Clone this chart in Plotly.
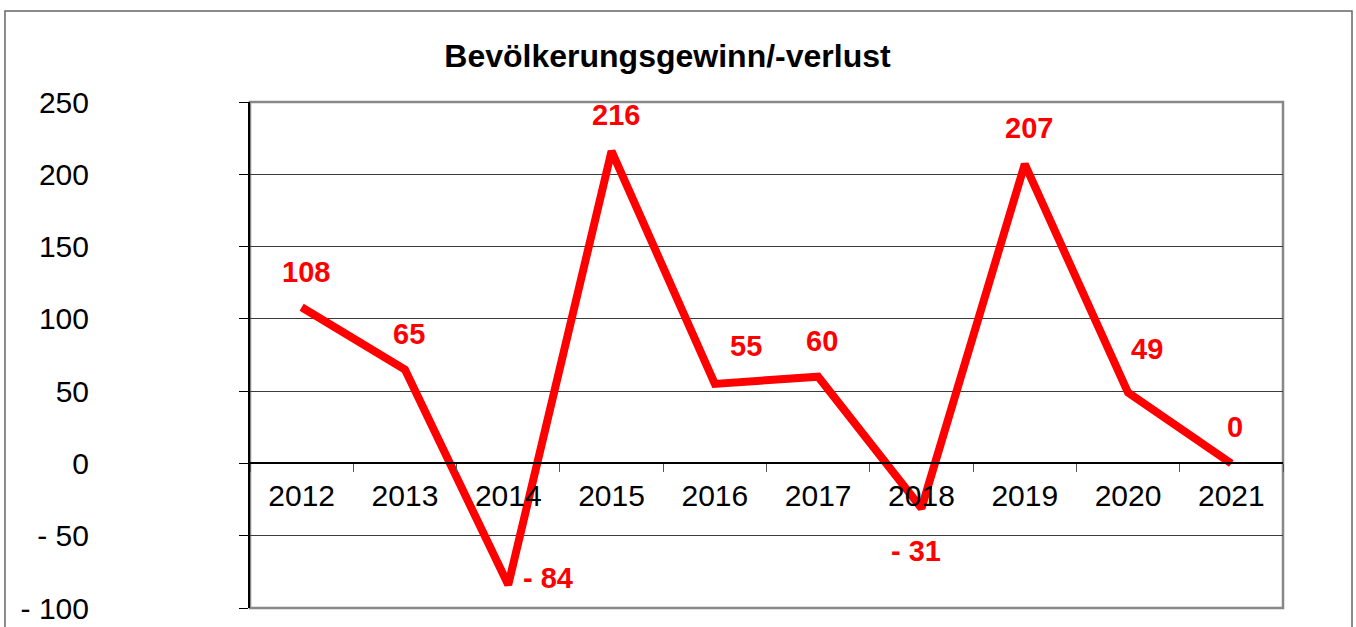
import plotly.graph_objects as go

# Jährlicher Bevölkerungsgewinn bzw. -verlust
years = ["2012", "2013", "2014", "2015", "2016", "2017", "2018", "2019", "2020", "2021"]
change = [108, 65, -84, 216, 55, 60, -31, 207, 49, 0]

y_ticks = [-100, -50, 0, 50, 100, 150, 200, 250]
y_tick_text = ["- 100", "- 50", "0", "50", "100", "150", "200", "250"]

# label placement per point: (anchor, dx, dy) in pixels, dy > 0 moves up
label_place = [
    ("center", 4, 35), ("center", 4, 35), ("left", 13, 7), ("center", 4, 36),
    ("center", 31, 38), ("center", 4, 36), ("center", -5, -43), ("center", 4, 36),
    ("center", 19, 44), ("center", 4, 36),
]

def fmt(v):
    return f"- {abs(v)}" if v < 0 else str(v)

FONT = "Arial"
y_min, y_max = y_ticks[0], y_ticks[-1]

fig = go.Figure()
fig.add_trace(go.Scatter(
    x=years, y=change, mode="lines",
    line=dict(color="#ff0000", width=8),
    hoverinfo="skip", showlegend=False,
))

annotations = []
for i, (v, (anc, dx, dy)) in enumerate(zip(change, label_place)):
    annotations.append(dict(
        x=i, y=v, xref="x", yref="y", text="<b>" + fmt(v) + "</b>",
        showarrow=False, xanchor=anc, yanchor="middle",
        xshift=dx, yshift=dy,
        font=dict(family=FONT, size=29, color="#ff0000"),
    ))

shapes = [
    # outer frame
    dict(type="rect", xref="paper", yref="paper",
         x0=-0.2372, x1=1.0668, y0=-0.2, y1=1.1798,
         line=dict(color="#666666", width=1.5), layer="below"),
    # plot area frame
    dict(type="rect", xref="paper", yref="paper",
         x0=0, x1=1, y0=0, y1=1,
         line=dict(color="#888888", width=2.5), layer="below"),
]

fig.update_layout(
    width=1356, height=627,
    margin=dict(l=250, r=73, t=102, b=19, autoexpand=False),
    paper_bgcolor="white", plot_bgcolor="white",
    font=dict(family=FONT, color="black"),
    title=dict(
        text="<b>Bevölkerungsgewinn/-verlust</b>",
        x=667.5 / 1356, xref="container", xanchor="center",
        y=1 - 56 / 627, yref="container", yanchor="middle",
        font=dict(family=FONT, size=32, color="black"),
    ),
    xaxis=dict(
        type="category", range=[-0.5, len(years) - 0.5],
        anchor="free", position=(0 - y_min) / (y_max - y_min),
        showline=True, linecolor="black", linewidth=1.5,
        ticks="outside", tickson="boundaries", ticklen=8, tickcolor="#555555",
        ticklabelstandoff=6,
        showgrid=False, tickfont=dict(size=30, color="black"),
        fixedrange=True,
    ),
    yaxis=dict(
        range=[y_min, y_max], tickvals=y_ticks, ticktext=y_tick_text,
        showgrid=True, gridcolor="#3a3a3a", gridwidth=1.2, zeroline=False,
        showline=True, linecolor="black", linewidth=2,
        ticks="outside", ticklen=9, tickcolor="black",
        ticklabelstandoff=144,
        tickfont=dict(size=30, color="black"),
        fixedrange=True,
    ),
    annotations=annotations,
    shapes=shapes,
)

fig.write_html("out.html")
